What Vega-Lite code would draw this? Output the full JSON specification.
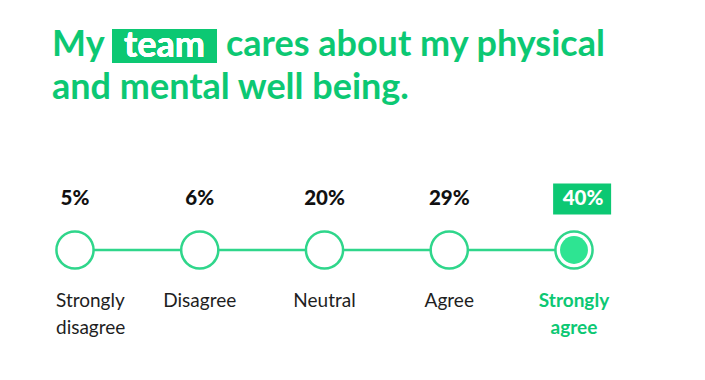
{
  "$schema": "https://vega.github.io/schema/vega-lite/v6.json",
  "width": 705,
  "height": 260,
  "autosize": "none",
  "padding": {"top": 120, "bottom": 0, "left": 0, "right": 0},
  "background": "white",
  "config": {"view": {"stroke": null}},
  "title": {
    "text": ["My\u2003\u2003\u2003\u2003\u00a0\u2009cares about my physical", "and mental well being."],
    "anchor": "start",
    "frame": "group",
    "orient": "top",
    "dx": 52,
    "dy": 93,
    "offset": 14,
    "font": "Lato",
    "fontSize": 36,
    "fontWeight": 700,
    "lineHeight": 43,
    "color": "#0cc873"
  },
  "data": {
    "values": [
      {"label": "Strongly disagree", "pct": 0.05, "order": 1},
      {"label": "Disagree", "pct": 0.06, "order": 2},
      {"label": "Neutral", "pct": 0.20, "order": 3},
      {"label": "Agree", "pct": 0.29, "order": 4},
      {"label": "Strongly agree", "pct": 0.40, "order": 5}
    ]
  },
  "encoding": {
    "x": {"field": "order", "type": "quantitative", "axis": null, "scale": {"domain": [0.3988, 6.0501], "nice": false, "zero": false}}
  },
  "layer": [
    {
      "mark": {"type": "rule", "stroke": "#2fd68b", "strokeWidth": 2.5},
      "encoding": {
        "x": {"aggregate": "min", "field": "order", "type": "quantitative", "axis": null, "scale": {"domain": [0.3988, 6.0501], "nice": false, "zero": false}},
        "x2": {"aggregate": "max", "field": "order"}
      }
    },
    {
      "mark": {"type": "point", "shape": "circle", "filled": true, "fill": "white", "stroke": "#2fd68b", "strokeWidth": 2.5, "size": 1380, "opacity": 1}
    },
    {
      "transform": [{"filter": {"field": "label", "equal": "Strongly agree"}}],
      "mark": {"type": "point", "shape": "circle", "filled": true, "fill": "#2ee492", "strokeWidth": 0, "size": 780, "opacity": 1}
    },
    {
      "transform": [{"filter": "datum.label != 'Strongly agree'"}],
      "mark": {"type": "text", "dy": -51, "font": "Lato", "fontSize": 20.5, "fontWeight": 900, "color": "#111111", "baseline": "middle", "align": "center"},
      "encoding": {"text": {"field": "pct", "type": "quantitative", "format": ".0%"}}
    },
    {
      "transform": [{"filter": {"field": "label", "equal": "Strongly agree"}}],
      "mark": {"type": "point", "shape": "M-0.72,-2.293L1.28,-2.293L1.28,-1.224L-0.72,-1.224Z", "filled": true, "fill": "#0cc873", "strokeWidth": 0, "size": 3364, "opacity": 1}
    },
    {
      "transform": [{"filter": {"field": "label", "equal": "Strongly agree"}}],
      "mark": {"type": "text", "dy": -51, "dx": 9, "font": "Lato", "fontSize": 20.5, "fontWeight": 900, "color": "white", "baseline": "middle", "align": "center"},
      "encoding": {"text": {"field": "pct", "type": "quantitative", "format": ".0%"}}
    },
    {
      "transform": [{"filter": {"field": "label", "equal": "Strongly disagree"}}],
      "mark": {"type": "text", "dy": 42, "dx": -19, "font": "Lato", "fontSize": 19, "color": "#1e1e1e", "baseline": "top", "align": "left", "lineBreak": " ", "lineHeight": 27},
      "encoding": {"text": {"field": "label"}}
    },
    {
      "transform": [{"filter": "datum.label != 'Strongly disagree' && datum.label != 'Strongly agree'"}],
      "mark": {"type": "text", "dy": 42, "font": "Lato", "fontSize": 19, "color": "#1e1e1e", "baseline": "top", "align": "center", "lineBreak": " ", "lineHeight": 27},
      "encoding": {"text": {"field": "label"}}
    },
    {
      "transform": [{"filter": {"field": "label", "equal": "Strongly agree"}}],
      "mark": {"type": "text", "dy": 42, "font": "Lato", "fontSize": 19, "fontWeight": 700, "color": "#0cc873", "baseline": "top", "align": "center", "lineBreak": " ", "lineHeight": 27},
      "encoding": {"text": {"field": "label"}}
    },
    {
      "mark": {"type": "rect", "fill": "#0cc873"},
      "encoding": {
        "x": {"value": 112},
        "x2": {"value": 217},
        "y": {"value": -91},
        "y2": {"value": -57}
      }
    },
    {
      "mark": {"type": "text", "text": "team", "font": "Lato", "fontSize": 36, "fontWeight": 700, "color": "white", "align": "center", "baseline": "alphabetic"},
      "encoding": {
        "x": {"value": 164.5},
        "y": {"value": -63}
      }
    }
  ]
}
